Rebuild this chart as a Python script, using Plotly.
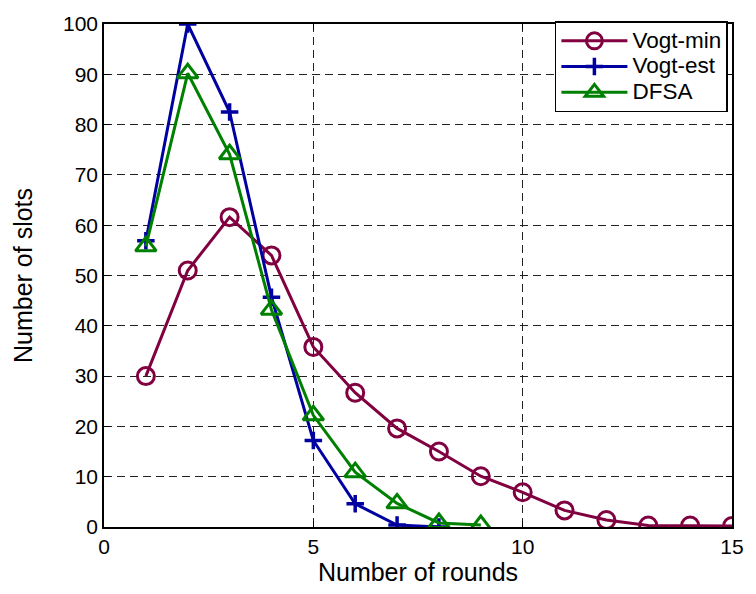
import plotly.graph_objects as go

rounds_min = list(range(1, 16))
vogt_min = [30, 51, 61.6, 54, 35.8, 26.7, 19.6, 15.0, 10.1, 6.9, 3.3, 1.4, 0.3, 0.3, 0.2]

rounds_est = list(range(1, 9))
vogt_est = [56.9, 100, 82.5, 45.7, 17.2, 4.6, 0.4, 0.0]

rounds_dfsa = list(range(1, 10))
dfsa = [55.8, 90.2, 74.1, 43.2, 22.2, 10.9, 4.7, 0.8, 0.4]

series_names = ["Vogt-min", "Vogt-est", "DFSA"]

x_ticks = [0, 5, 10, 15]
y_ticks = list(range(0, 101, 10))

FONT = "Liberation Sans, Arial"


def legend_label(name):
    return '<span style="font-size:22.5px">' + name + '</span>'


fig = go.Figure()
fig.add_trace(go.Scatter(x=rounds_min, y=vogt_min, name=legend_label(series_names[0]), mode="lines+markers",
                         line=dict(color="#800040", width=3),
                         marker=dict(symbol="circle-open", size=17, line=dict(width=3, color="#800040"))))
fig.add_trace(go.Scatter(x=rounds_est, y=vogt_est, name=legend_label(series_names[1]), mode="lines+markers",
                         line=dict(color="#0000A0", width=3),
                         marker=dict(symbol="cross-thin-open", size=12.5, line=dict(width=3.5, color="#0000A0"))))
fig.add_trace(go.Scatter(x=rounds_dfsa, y=dfsa, name=legend_label(series_names[2]), mode="lines+markers",
                         line=dict(color="#008000", width=3),
                         marker=dict(symbol="triangle-up-open", size=18, line=dict(width=3, color="#008000"))))

axis_common = dict(showline=True, linecolor="black", linewidth=1.5, mirror="ticks",
                   ticks="inside", ticklen=6, tickcolor="black", tickwidth=1,
                   showgrid=True, gridcolor="#222222", griddash="8px,5px", gridwidth=1,
                   zeroline=False, tickfont=dict(family=FONT, size=21, color="black"))

fig.update_layout(
    width=756, height=594,
    margin=dict(l=104, r=14, t=14, b=67),
    paper_bgcolor="white", plot_bgcolor="white",
    font=dict(family=FONT, color="black"),
    xaxis=dict(range=[0, 15], tickvals=x_ticks,
               title=dict(text="Number of rounds", font=dict(size=25), standoff=7), **axis_common),
    yaxis=dict(range=[0, 100], tickvals=y_ticks,
               title=dict(text="Number of slots", font=dict(size=25), standoff=23), **axis_common),
    legend=dict(x=0.718, y=1.005, xanchor="left", yanchor="top", bgcolor="white",
                bordercolor="black", borderwidth=1.5, font=dict(size=17.5, family=FONT),
                itemwidth=66, tracegroupgap=0),
    showlegend=True,
)
fig.write_html("out.html")
